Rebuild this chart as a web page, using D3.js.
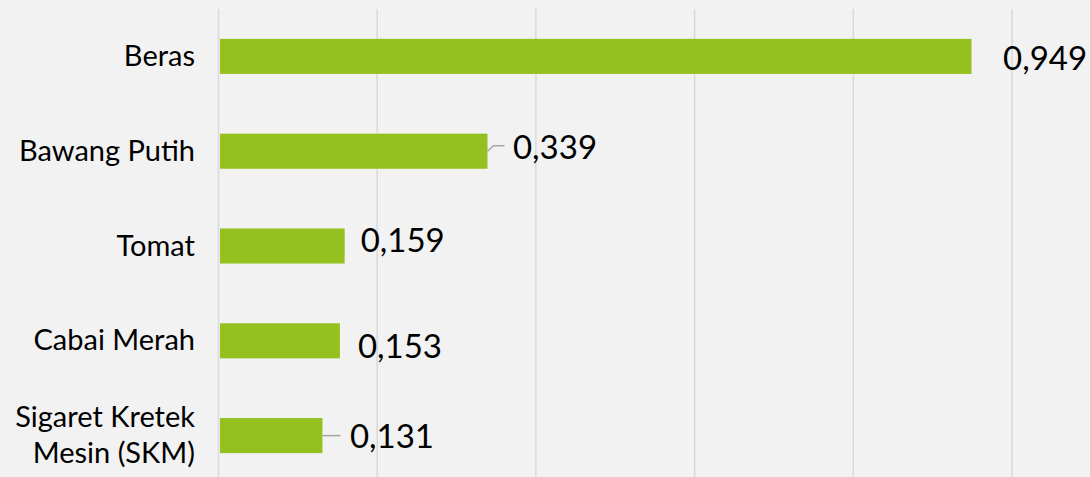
<!DOCTYPE html>
<html>
<head>
<meta charset="utf-8">
<script src="https://cdn.jsdelivr.net/npm/d3@7"></script>
<style>
html,body{margin:0;padding:0;background:#f2f2f2;}
svg{display:block;}
</style>
</head>
<body>
<svg id="chart" width="1090" height="477"></svg>
<script>
// ---- data ----
const categories = ["Beras", "Bawang Putih", "Tomat", "Cabai Merah", "Sigaret Kretek\nMesin (SKM)"];
const values = [0.949, 0.339, 0.159, 0.153, 0.131];
const valueLabels = ["0,949", "0,339", "0,159", "0,153", "0,131"];
const gridTicks = [0, 0.2, 0.4, 0.6, 0.8, 1.0];

// ---- layout (manually placed data labels, as in the original) ----
const labelDx = [31.5, 25.5, 16, 18, 27.5];
const labelDy = [13.5, 8, 6, 17, 12.5];
const leaderLines = [null, "bend", null, null, "straight"];

const W = 1090, H = 477;
const svg = d3.select("#chart");
svg.append("rect").attr("width", W).attr("height", H).attr("fill", "#f2f2f2");

const x = d3.scaleLinear().domain([0, 1]).range([218.5, 1012]);
const y = d3.scaleBand().domain(categories).range([9, 483]).paddingInner(0.63).paddingOuter(0.315);

// gridlines
svg.append("g").selectAll("line").data(gridTicks).join("line")
  .attr("x1", d => x(d)).attr("x2", d => x(d))
  .attr("y1", 9).attr("y2", H)
  .attr("stroke", "#d9d9d9").attr("stroke-width", 1.5);

// bars
svg.append("g").selectAll("rect").data(values).join("rect")
  .attr("x", x(0) + 1.5)
  .attr("y", (d, i) => y(categories[i]))
  .attr("width", d => x(d) - x(0) - 1.5)
  .attr("height", y.bandwidth())
  .attr("fill", "#95c11f");

// leader lines
const lg = svg.append("g").attr("stroke", "#a6a6a6").attr("stroke-width", 1.5).attr("fill", "none");
values.forEach((v, i) => {
  const cy = y(categories[i]) + y.bandwidth() / 2;
  const x0 = x(v);
  if (leaderLines[i] === "bend") {
    lg.append("path").attr("d", `M${x0},${cy} L${x0 + 6},${cy - 5.5} L${x0 + 17},${cy - 5.5}`);
  } else if (leaderLines[i] === "straight") {
    lg.append("path").attr("d", `M${x0},${cy} L${x0 + 18},${cy}`);
  }
});

// value labels
svg.append("g").selectAll("text").data(values).join("text")
  .attr("x", (d, i) => x(d) + labelDx[i])
  .attr("y", (d, i) => y(categories[i]) + y.bandwidth() / 2 + labelDy[i])
  .attr("font-family", "Lato, 'Open Sans', sans-serif")
  .attr("font-size", 33)
  .attr("fill", "#000")
  .text((d, i) => valueLabels[i]);

// category labels
const cg = svg.append("g")
  .attr("font-family", "Lato, 'Open Sans', sans-serif")
  .attr("font-size", 29)
  .attr("fill", "#000")
  .attr("text-anchor", "end");
categories.forEach(c => {
  const lines = c.split("\n");
  const cy = y(c) + y.bandwidth() / 2;
  const lh = 36.5;
  const t = cg.append("text").attr("x", 195);
  lines.forEach((ln, k) => {
    t.append("tspan").attr("x", 195)
      .attr("y", cy + 9.5 + (k - (lines.length - 1) / 2) * lh)
      .text(ln);
  });
});
</script>
</body>
</html>
